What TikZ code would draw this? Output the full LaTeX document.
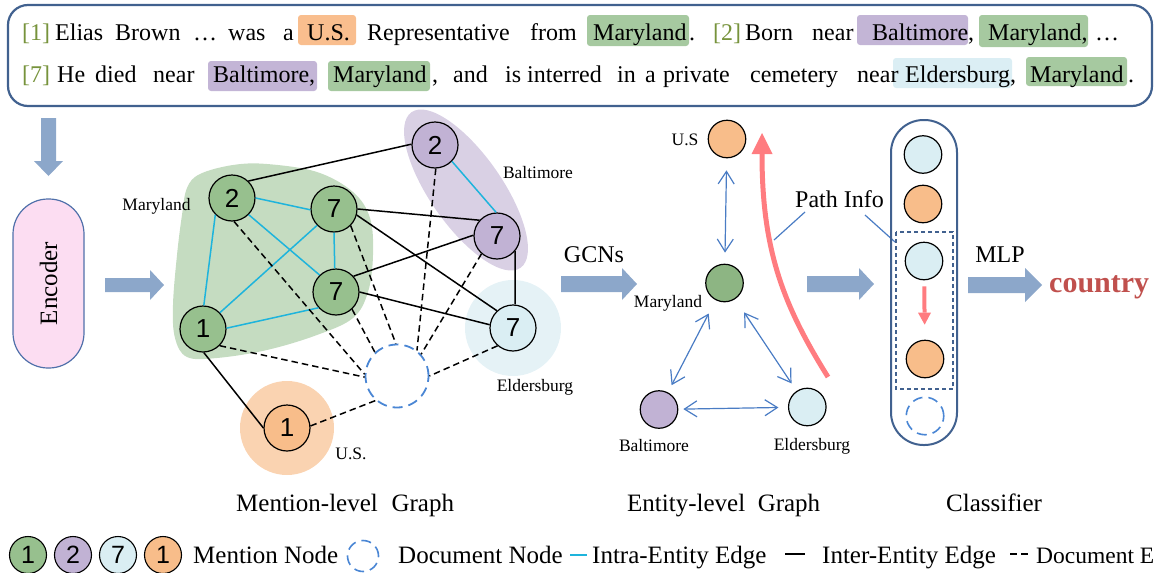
\documentclass[tikz,border=0pt]{standalone}
\usepackage{fontspec}
\setmainfont{Liberation Serif}
\newfontfamily\arialf{Liberation Sans}
\usetikzlibrary{arrows.meta}
\definecolor{boxblue}{HTML}{41618F}
\definecolor{olivec}{HTML}{77933C}
\definecolor{hlO}{HTML}{F9BE8E}
\definecolor{hlG}{HTML}{A6C9A0}
\definecolor{hlP}{HTML}{C3B5D6}
\definecolor{hlB}{HTML}{DBEEF4}
\definecolor{gnode}{HTML}{97C08E}
\definecolor{gnodeb}{HTML}{8DB583}
\definecolor{pnode}{HTML}{C1B2D4}
\definecolor{bnode}{HTML}{DAEEF3}
\definecolor{onode}{HTML}{F8BD8A}
\definecolor{gblob}{HTML}{C5DCC1}
\definecolor{pblob}{HTML}{D9D0E4}
\definecolor{bblob}{HTML}{E5F2F6}
\definecolor{oblob}{HTML}{FAD3B1}
\definecolor{cyanedge}{HTML}{1EB4DC}
\definecolor{docblue}{HTML}{4A86D4}
\definecolor{arrblue}{HTML}{4A7CC4}
\definecolor{fatblue}{HTML}{8CA7CA}
\definecolor{redarr}{HTML}{FF7C80}
\definecolor{countryc}{HTML}{C0504D}
\definecolor{encpink}{HTML}{FCDDF2}
\definecolor{encb}{HTML}{5070AA}
\begin{document}
\begin{tikzpicture}[x=1pt,y=-1pt,
  tt/.style={anchor=base west, inner sep=0pt, font=\fontsize{24}{28}\selectfont},
  tl/.style={anchor=base west, inner sep=0pt, font=\fontsize{25}{28}\selectfont},
  mnode/.style={circle, draw=black, line width=1.2pt, minimum size=46pt, inner sep=0pt, font=\arialf\fontsize{26}{26}\selectfont},
  enode/.style={circle, draw=black, line width=1.2pt, minimum size=37.5pt, inner sep=0pt},
  lnode/.style={circle, draw=black, line width=1.1pt, minimum size=37pt, inner sep=0pt, font=\arialf\fontsize{25}{25}\selectfont},
  slab/.style={inner sep=0pt, font=\fontsize{17.5}{20}\selectfont},
  intra/.style={draw=cyanedge, line width=1.5pt},
  inter/.style={draw=black, line width=1.5pt},
  docedge/.style={draw=black, line width=1.5pt, dash pattern=on 6.5pt off 4pt},
  docnode/.style={circle, draw=docblue, line width=1.8pt, dash pattern=on 10pt off 6pt, inner sep=0pt},
  barrow/.style={draw=arrblue, line width=1.2pt, arrows={Straight Barb[length=12.5pt,width=16pt]-Straight Barb[length=12.5pt,width=16pt]}},
  pathline/.style={draw=arrblue, line width=1.2pt},
  fatc/.style={fill=fatblue},
  bigt/.style={inner sep=0pt, font=\fontsize{24}{28}\selectfont}
]
\useasboundingbox (0,0) rectangle (1157,573);

% ---------- top text box ----------
\draw[draw=boxblue, line width=2.2pt, rounded corners=20pt] (8,5) rectangle (1152,106);
\fill[hlO, rounded corners=3pt] (298,15) rectangle (356,45);
\fill[hlG, rounded corners=3pt] (587,15) rectangle (689,46);
\fill[hlP, rounded corners=3pt] (857,15) rectangle (968,45);
\fill[hlG, rounded corners=3pt] (979,15) rectangle (1088,47);
\fill[hlP, rounded corners=3pt] (208,61) rectangle (317,91);
\fill[hlG, rounded corners=3pt] (328,61) rectangle (430,91);
\fill[hlB, rounded corners=3pt] (893,58) rectangle (1012,88);
\fill[hlG, rounded corners=3pt] (1026,57) rectangle (1127,86);

\node[tt, text=olivec] (a1) at (22,40) {[1]};
\node[tt] (a2) at (55,40) {Elias};
\node[tt] (a3) at (115,40) {Brown};
\node[tt] (a4) at (193,40) {…};
\node[tt] (a5) at (228,40) {was};
\node[tt] (a6) at (283,40) {a};
\node[tt] (a7) at (307,40) {U.S.};
\node[tt] (a8) at (367,40) {Representative};
\node[tt] (a9) at (530,40) {from};
\node[tt] (a10) at (593,40) {Maryland};
\node[tt] (a11) at (689,40) {.};
\node[tt, text=olivec] (a12) at (713,40) {[2]};
\node[tt] (a13) at (745,40) {Born};
\node[tt] (a14) at (812,40) {near};
\node[tt] (a15) at (872,40) {Baltimore};
\node[tt] (a16) at (968,40) {,};
\node[tt] (a17) at (988,40) {Maryland,};
\node[tt] (a18) at (1095,40) {…};

\node[tt, text=olivec] (b1) at (22,82) {[7]};
\node[tt] (b2) at (57,82) {He};
\node[tt] (b3) at (95,82) {died};
\node[tt] (b4) at (153,82) {near};
\node[tt] (b5) at (213,82) {Baltimore,};
\node[tt] (b6) at (333,82) {Maryland};
\node[tt] (b7) at (432,82) {,};
\node[tt] (b8) at (453,82) {and};
\node[tt] (b9) at (505,82) {is};
\node[tt] (b10) at (527,82) {interred};
\node[tt] (b11) at (617,82) {in};
\node[tt] (b12) at (645,82) {a};
\node[tt] (b13) at (663,82) {private};
\node[tt] (b14) at (750,82) {cemetery};
\node[tt] (b15) at (857,82) {near};
\node[tt] (b16) at (905,82) {Eldersburg,};
\node[tt] (b17) at (1030,82) {Maryland};
\node[tt] (b18) at (1128,82) {.};

% ---------- encoder ----------
\fill[fatc] (41,118) -- (56,118) -- (56,161) -- (63,161) -- (48.5,176) -- (34,161) -- (41,161) -- cycle;
\node[draw=encb, fill=encpink, line width=1.2pt, rounded corners=35pt, minimum width=71pt, minimum height=169pt, inner sep=0pt] (enc) at (48.5,283.5) {};
\node[rotate=90, inner sep=0pt, font=\fontsize{25}{28}\selectfont] (enct) at (enc.center) {Encoder};
\fill[fatc] (105,278) -- (150,278) -- (150,270) -- (164,285) -- (150,300) -- (150,292) -- (105,292) -- cycle;

% ---------- mention-level graph ----------
\fill[gblob] plot[smooth cycle, tension=0.6] coordinates {(187,188) (200,174) (233,165) (267,164) (317,172) (353,192) (370,218) (373,255) (368,292) (353,318) (317,335) (267,350) (217,358) (187,357) (175,338) (173,305) (177,255) (182,215)};
\fill[pblob, rotate around={-55:(466,190)}] (466,190) ellipse [x radius=95pt, y radius=36pt];
\fill[bblob] (513,328) circle [radius=48pt];
\fill[oblob] (287,428) circle [radius=47pt];

\node[mnode, fill=gnode] (m2) at (232,198) {2};
\node[mnode, fill=gnode] (m7a) at (334,209) {7};
\node[mnode, fill=gnode] (m7b) at (336,292) {7};
\node[mnode, fill=gnode] (m1) at (203,329) {1};
\node[mnode, fill=pnode] (p2) at (435,145) {2};
\node[mnode, fill=pnode] (p7) at (497,236) {7};
\node[mnode, fill=bnode] (e7) at (513,328) {7};
\node[mnode, fill=onode] (u1) at (287,428) {1};
\node[docnode, minimum size=63pt] (doc) at (397,376) {};

\node[slab] (lmd) at (156.5,206) {Maryland};
\node[slab] (lbal) at (538,173) {Baltimore};
\node[slab] (leld) at (535,387) {Eldersburg};
\node[slab] (lus) at (351,454) {U.S.};

% intra-entity edges
\draw[intra] (m2.0) -- (m7a.182);
\draw[intra] (m2.-45) -- (m7b.134);
\draw[intra] (m2.225) -- (m1.88);
\draw[intra] (m7a.-90) -- (m7b.93);
\draw[intra] (m7a.224) -- (m1.44);
\draw[intra] (m1.2) -- (m7b.222);
\draw[intra] (p2.-44) -- (p7.92);
% inter-entity edges
\draw[inter] (m2.46) -- (p2.178);
\draw[inter] (m7a.0) -- (p7.138);
\draw[inter] (m7a.-15) -- (e7.133);
\draw[inter] (m7b.42) -- (p7.178);
\draw[inter] (m7b.0) -- (e7.172);
\draw[inter] (p7.-40) -- (e7.85);
\draw[inter] (m1.-88) -- (u1.180);
% document edges
\draw[docedge] (m2.-85) -- (doc.177);
\draw[docedge] (m1.-45) -- (doc.182);
\draw[docedge] (m7b.-47) -- (doc.133);
\draw[docedge] (m7a.-45) -- (doc.92);
\draw[docedge] (p2.-88) -- (doc.52);
\draw[docedge] (p7.229) -- (doc.42);
\draw[docedge] (e7.229) -- (doc.0);
\draw[docedge] (u1.5) -- (doc.229);

% ---------- GCNs ----------
\fill[fatc] (561,276) -- (622,276) -- (622,268) -- (637,284) -- (622,300) -- (622,292) -- (561,292) -- cycle;
\node[bigt] (gcn) at (594,255) {GCNs};

% ---------- entity-level graph ----------
\node[enode, fill=onode] (eus) at (727,139) {};
\node[enode, fill=gnodeb] (emd) at (724.5,283) {};
\node[enode, fill=pnode] (ebal) at (659,409.5) {};
\node[enode, fill=bnode] (eeld) at (807.3,407) {};
\node[slab] (leus) at (685,140) {U.S};
\node[slab] (lemd) at (668,303) {Maryland};
\node[slab] (lebal) at (654,446) {Baltimore};
\node[slab] (leeld) at (812,446) {Eldersburg};

\draw[barrow, shorten <=12pt, shorten >=11pt] (eus) -- (emd);
\draw[barrow, shorten <=15pt, shorten >=8pt] (emd) -- (ebal);
\draw[barrow, shorten <=16pt, shorten >=9pt] (emd) -- (eeld);
\draw[barrow, shorten <=5pt, shorten >=9.5pt] (ebal) -- (eeld);

\coordinate (rs) at (828,377);
\coordinate (re) at (762,133);
\draw[draw=redarr, line width=5pt, -{Triangle[length=21pt,width=21pt,line width=0pt]}] (rs) .. controls (783,305) and (762,250) .. (re);

\node[bigt] (pinfo) at (839.5,199) {Path Info};
\coordinate (pa1) at (805,212);
\coordinate (pb1) at (774,240);
\coordinate (pa2) at (865,215);
\coordinate (pb2) at (895,242);
\draw[pathline] (pa1) -- (pb1);
\draw[pathline] (pa2) -- (pb2);

\fill[fatc] (807,276) -- (859,276) -- (859,268) -- (874,284) -- (859,300) -- (859,292) -- (807,292) -- cycle;

% ---------- classifier ----------
\node[draw=boxblue, line width=2pt, rounded corners=32.5pt, minimum width=66pt, minimum height=325pt, inner sep=0pt] (cls) at (924,282.5) {};
\node[enode, fill=bnode] (c1) at (923,154.5) {};
\node[enode, fill=onode] (c2) at (923,204) {};
\node[enode, fill=bnode] (c3) at (924,261) {};
\node[enode, fill=onode] (c4) at (925,359) {};
\node[docnode, minimum size=37.5pt, line width=1.6pt] (c5) at (925,416) {};
\draw[draw=boxblue, line width=1.2pt, dash pattern=on 4pt off 3pt] (896,232) rectangle (953,389);
\draw[draw=redarr, line width=4pt, shorten <=6pt, shorten >=15pt, -{Triangle[length=12pt,width=13pt,line width=0pt]}] (c3) -- (c4);

\fill[fatc] (968,277) -- (1025,277) -- (1025,268) -- (1042,285) -- (1025,302) -- (1025,293) -- (968,293) -- cycle;
\node[bigt] (mlp) at (1000,255) {MLP};
\node[anchor=base west, inner sep=0pt, text=countryc, font=\bfseries\fontsize{30}{32}\selectfont] (country) at (1049,292) {country};

% ---------- titles ----------
\node[tl] (tit1) at (236,511) {Mention-level\hspace{0.55em}Graph};
\node[tl] (tit2) at (627,511) {Entity-level\hspace{0.5em}Graph};
\node[tl] (tit3) at (946,511) {Classifier};

% ---------- legend ----------
\node[lnode, fill=gnode] (lg1) at (28,555) {1};
\node[lnode, fill=pnode] (lg2) at (73,555) {2};
\node[lnode, fill=bnode] (lg3) at (118,555) {7};
\node[lnode, fill=onode] (lg4) at (163,555) {1};
\node[tl] (lmn) at (193,563) {Mention Node};
\node[docnode, minimum size=31pt, line width=1.6pt] (ldn) at (363,556) {};
\node[tl] (ldt) at (398,563) {Document Node};
\coordinate (lc1) at (570,555);
\coordinate (lc2) at (587,555);
\draw[intra, line width=1.8pt] (lc1) -- (lc2);
\node[tl] (lit) at (592,563) {Intra-Entity Edge};
\coordinate (lk1) at (785,554);
\coordinate (lk2) at (805,554);
\draw[inter, line width=1.8pt] (lk1) -- (lk2);
\node[tl] (let) at (822,563) {Inter-Entity Edge};
\coordinate (ld1) at (1010,554);
\coordinate (ld2) at (1028,554);
\draw[black, line width=1.5pt, dash pattern=on 7pt off 4pt] (ld1) -- (ld2);
\node[anchor=base west, inner sep=0pt, font=\fontsize{23.5}{28}\selectfont] (lde) at (1036,563) {Document E};
\end{tikzpicture}
\end{document}
